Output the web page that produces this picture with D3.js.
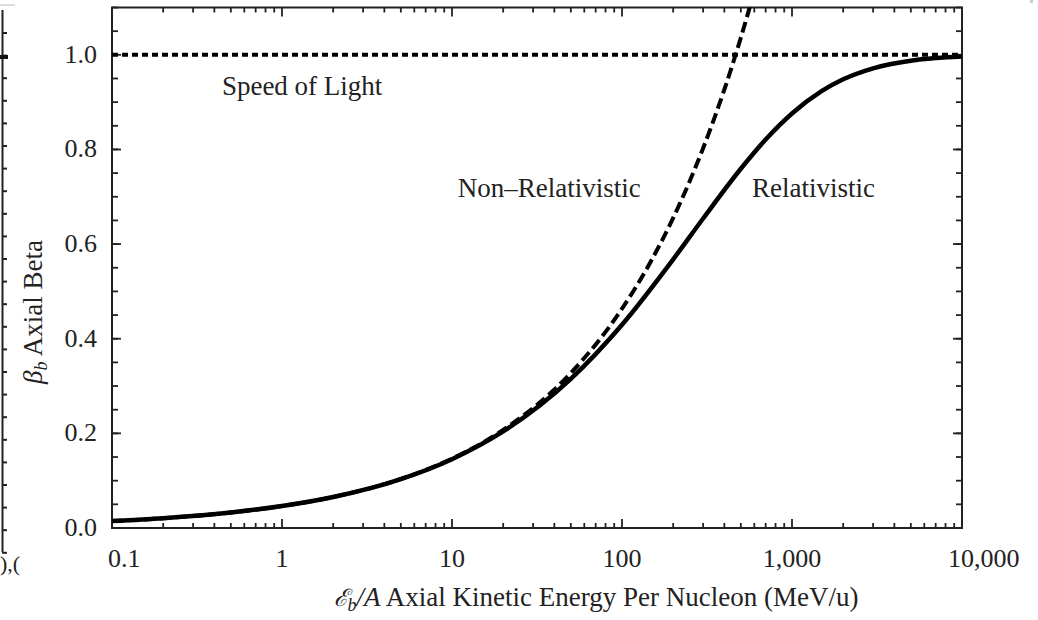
<!DOCTYPE html>
<html>
<head>
<meta charset="utf-8">
<script src="https://cdn.jsdelivr.net/npm/d3@7"></script>
<style>
  html, body { margin: 0; padding: 0; background: #fff; }
  svg { display: block; }
  text { font-family: "Liberation Serif", "DejaVu Serif", serif; fill: #222; }
</style>
</head>
<body>
<svg id="chart" width="1038" height="620"></svg>
<script>
// ---- data ----
const relEnergy = [0.1, 0.2, 0.5, 1, 2, 5, 10, 20, 50, 100, 200, 300, 500, 700, 1000, 1500, 2000, 3000, 5000, 7000, 10000];
const relBeta   = [0.0147, 0.0207, 0.0328, 0.0463, 0.0654, 0.1032, 0.1454, 0.2040, 0.3151, 0.4295, 0.5677, 0.6541, 0.7593, 0.8210, 0.8760, 0.9237, 0.9482, 0.9715, 0.9876, 0.9931, 0.9964];
const nonRelEnergy = [0.1, 0.2, 0.5, 1, 2, 5, 10, 20, 50, 100, 150, 200, 300, 400, 500, 560, 600];
const nonRelBeta   = [0.0147, 0.0207, 0.0328, 0.0463, 0.0655, 0.1036, 0.1465, 0.2072, 0.3276, 0.4634, 0.5675, 0.6553, 0.8026, 0.9267, 1.0361, 1.0965, 1.1350];
const lightEnergy = [0.1, 10000];
const lightBeta   = [1.0, 1.0];
const xTickValues = [0.1, 1, 10, 100, 1000, 10000];
const xTickLabels = ["0.1", "1", "10", "100", "1,000", "10,000"];
const yTickValues = [0, 0.2, 0.4, 0.6, 0.8, 1.0];
const yTickLabels = ["0.0", "0.2", "0.4", "0.6", "0.8", "1.0"];
const annotations = [
  { text: "Speed of Light", x: 0.443, y: 0.915 },
  { text: "Non\u2013Relativistic", x: 10.8, y: 0.70 },
  { text: "Relativistic", x: 582, y: 0.70 }
];

// ---- layout ----
const svg = d3.select("#chart");
const L = 112, R = 962, T = 7.5, B = 528;
const x = d3.scaleLog().domain([0.1, 10000]).range([L, R]);
const y = d3.scaleLinear().domain([0, 1.1]).range([B, T]);

// cropped neighbouring-figure remnants at the edges
svg.append("line").attr("x1", 0).attr("x2", 15).attr("y1", 5).attr("y2", 5).attr("stroke", "#bbb").attr("stroke-width", 1);
svg.append("rect").attr("x", 1030).attr("y", 0).attr("width", 3).attr("height", 3).attr("fill", "#ccc");
svg.append("line").attr("x1", 2.5).attr("x2", 2.5).attr("y1", 10).attr("y2", 552).attr("stroke", "#222").attr("stroke-width", 2);
const artTicks = d3.range(0, 24).map(i => 33 + i * 22.6);
svg.selectAll(".art").data(artTicks).enter().append("line")
  .attr("x1", 2).attr("x2", 7).attr("y1", d => d).attr("y2", d => d)
  .attr("stroke", "#222").attr("stroke-width", 2);
svg.append("line").attr("x1", 0).attr("x2", 8).attr("y1", 57).attr("y2", 57).attr("stroke", "#111").attr("stroke-width", 4);
svg.append("text").attr("x", 0).attr("y", 571).attr("font-size", 22).text("),(");

// clip
svg.append("clipPath").attr("id", "clip").append("rect")
  .attr("x", L).attr("y", T).attr("width", R - L).attr("height", B - T);

// ticks (inward, all four sides)
const minorX = [];
for (let e = -1; e < 4; e++) for (let k = 2; k <= 9; k++) minorX.push(k * Math.pow(10, e));
const minorY = d3.range(0, 23).map(i => i * 0.05);
const tickG = svg.append("g").attr("stroke", "#222").attr("stroke-width", 1.8);
function xTick(v, len) {
  tickG.append("line").attr("x1", x(v)).attr("x2", x(v)).attr("y1", B).attr("y2", B - len);
  tickG.append("line").attr("x1", x(v)).attr("x2", x(v)).attr("y1", T).attr("y2", T + len);
}
function yTick(v, len) {
  tickG.append("line").attr("y1", y(v)).attr("y2", y(v)).attr("x1", L).attr("x2", L + len);
  tickG.append("line").attr("y1", y(v)).attr("y2", y(v)).attr("x1", R).attr("x2", R - len);
}
minorX.forEach(v => xTick(v, 5));
xTickValues.forEach(v => xTick(v, 9));
minorY.forEach(v => yTick(v, 6));
yTickValues.forEach(v => yTick(v, 9));

// frame
svg.append("rect").attr("x", L).attr("y", T).attr("width", R - L).attr("height", B - T)
  .attr("fill", "none").attr("stroke", "#222").attr("stroke-width", 2);

// tick labels
const nX = xTickValues.length;
svg.selectAll(".xl").data(xTickValues).enter().append("text")
  .attr("x", (d, i) => i === 0 ? x(d) - 4 : (i === nX - 1 ? x(d) - 14 : x(d)))
  .attr("y", 567)
  .attr("text-anchor", (d, i) => (i === 0 || i === nX - 1) ? "start" : "middle")
  .attr("font-size", 26)
  .text((d, i) => xTickLabels[i]);
svg.selectAll(".yl").data(yTickValues).enter().append("text")
  .attr("x", 97).attr("y", d => y(d) + 8).attr("text-anchor", "end").attr("font-size", 26)
  .text((d, i) => yTickLabels[i]);

// curves
const plot = svg.append("g").attr("clip-path", "url(#clip)");
const line = d3.line().x(d => x(d[0])).y(d => y(d[1])).curve(d3.curveMonotoneX);
plot.append("path").datum(nonRelEnergy.map((e, i) => [e, nonRelBeta[i]]))
  .attr("d", line).attr("fill", "none").attr("stroke", "#000").attr("stroke-width", 4)
  .attr("stroke-dasharray", "11,5");
plot.append("path").datum(relEnergy.map((e, i) => [e, relBeta[i]]))
  .attr("d", line).attr("fill", "none").attr("stroke", "#000").attr("stroke-width", 4.5);
svg.append("path").datum(lightEnergy.map((e, i) => [e, lightBeta[i]]))
  .attr("d", d3.line().x(d => x(d[0])).y(d => y(d[1])))
  .attr("fill", "none").attr("stroke", "#000").attr("stroke-width", 4)
  .attr("stroke-dasharray", "6,4");

// annotations
svg.selectAll(".ann").data(annotations).enter().append("text")
  .attr("x", d => x(d.x)).attr("y", d => y(d.y))
  .attr("font-size", 27).text(d => d.text);

// axis titles
const xt = svg.append("text").attr("x", 596).attr("y", 606).attr("text-anchor", "middle").attr("font-size", 27);
xt.append("tspan").attr("font-style", "italic").attr("font-family", "DejaVu Serif").attr("font-size", 24).text("\u2130");
xt.append("tspan").attr("font-style", "italic").attr("font-size", 18).attr("dy", 5).text("b");
xt.append("tspan").attr("dy", -5).attr("font-style", "italic").text("/A");
xt.append("tspan").text(" Axial Kinetic Energy Per Nucleon (MeV/u)");

const yt = svg.append("text").attr("transform", "translate(42,312) rotate(-90)")
  .attr("text-anchor", "middle").attr("font-size", 27);
yt.append("tspan").attr("font-style", "italic").text("\u03B2");
yt.append("tspan").attr("font-style", "italic").attr("font-size", 18).attr("dy", 5).text("b");
yt.append("tspan").attr("dy", -5).text(" Axial Beta");
</script>
</body>
</html>
